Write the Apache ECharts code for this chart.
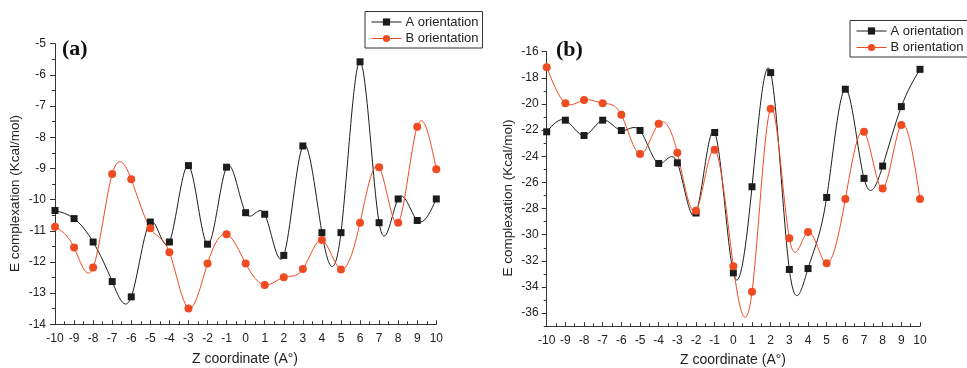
<!DOCTYPE html>
<html>
<head>
<meta charset="utf-8">
<script src="https://cdn.jsdelivr.net/npm/echarts@6/dist/echarts.min.js"></script>
<style>html,body{margin:0;padding:0;background:#fff;}#c{width:967px;height:368px;}</style>
</head>
<body>
<div id="c"></div>
<script>
// ---- data ----
const zs = [-10,-9,-8,-7,-6,-5,-4,-3,-2,-1,0,1,2,3,4,5,6,7,8,9,10];
const panelA_A = [-10.35,-10.61,-11.36,-12.63,-13.12,-10.72,-11.36,-8.91,-11.43,-8.96,-10.42,-10.47,-11.79,-8.28,-11.06,-11.06,-5.58,-10.74,-9.98,-10.67,-9.98];
const panelA_B = [-10.87,-11.54,-12.18,-9.18,-9.35,-10.92,-11.69,-13.49,-12.05,-11.11,-12.05,-12.74,-12.49,-12.23,-11.30,-12.24,-10.74,-8.96,-10.74,-7.66,-9.03];
const panelB_A = [-22.13,-21.24,-22.41,-21.24,-22.03,-22.03,-24.55,-24.50,-28.34,-22.18,-32.92,-26.33,-17.60,-32.66,-32.59,-27.15,-18.87,-25.69,-24.75,-20.20,-17.35];
const panelB_B = [-17.19,-19.94,-19.69,-19.94,-20.83,-23.83,-21.52,-23.73,-28.16,-23.50,-32.41,-34.37,-20.37,-30.27,-29.79,-32.18,-27.27,-22.13,-26.46,-21.60,-27.27];
const seriesNames = ['A orientation','B orientation'];
const xTicks = [-10,-9,-8,-7,-6,-5,-4,-3,-2,-1,0,1,2,3,4,5,6,7,8,9,10];
const yTicksB = [-36,-34,-32,-30,-28,-26,-24,-22,-20,-18,-16];
const yMinorB = [-37,-35,-33,-31,-29,-27,-25,-23,-21,-19,-17];
const yAxisTitle = 'E complexation (Kcal/mol)';
const xAxisTitle = 'Z coordinate (A°)';

// ---- style ----
const BLACK = '#1c1c1c', RED = '#ef4b23', TXT = '#222';
const FONT = 'Liberation Sans, Arial, sans-serif';

// natural cubic spline second derivatives
function splineM(xs, ys) {
  const n = xs.length, h = [], M = new Array(n).fill(0);
  for (let i = 0; i < n - 1; i++) h.push(xs[i+1] - xs[i]);
  const a = [], b = [], c = [], d = [];
  for (let i = 1; i < n - 1; i++) {
    a.push(h[i-1]); b.push(2*(h[i-1]+h[i])); c.push(h[i]);
    d.push(6*((ys[i+1]-ys[i])/h[i] - (ys[i]-ys[i-1])/h[i-1]));
  }
  const m = b.length;
  for (let i = 1; i < m; i++) { const w = a[i]/b[i-1]; b[i] -= w*c[i-1]; d[i] -= w*d[i-1]; }
  const sol = new Array(m);
  sol[m-1] = d[m-1]/b[m-1];
  for (let i = m-2; i >= 0; i--) sol[i] = (d[i] - c[i]*sol[i+1])/b[i];
  for (let i = 0; i < m; i++) M[i+1] = sol[i];
  return M;
}

function curve(ys, color, gi) {
  const M = splineM(zs, ys);
  return {
    type: 'custom', xAxisIndex: gi, yAxisIndex: gi === 0 ? 0 : 1, silent: true, z: 1,
    data: zs.map((x, i) => [x, ys[i]]),
    renderItem: function (params, api) {
      const i = params.dataIndex;
      if (i >= zs.length - 1) return null;
      const h = zs[i+1] - zs[i];
      const s = (ys[i+1] - ys[i]) / h;
      const d0 = s - h*(2*M[i] + M[i+1])/6;
      const d1 = s + h*(M[i] + 2*M[i+1])/6;
      const p0 = api.coord([zs[i], ys[i]]);
      const p1 = api.coord([zs[i] + h/3, ys[i] + d0*h/3]);
      const p2 = api.coord([zs[i+1] - h/3, ys[i+1] - d1*h/3]);
      const p3 = api.coord([zs[i+1], ys[i+1]]);
      return {
        type: 'bezierCurve',
        shape: {x1: p0[0], y1: p0[1], cpx1: p1[0], cpy1: p1[1], cpx2: p2[0], cpy2: p2[1], x2: p3[0], y2: p3[1]},
        style: {stroke: color, lineWidth: 1, fill: null}
      };
    }
  };
}

function markers(name, ys, color, symbol, size, gi) {
  return {
    type: 'line', name: name, xAxisIndex: gi, yAxisIndex: gi === 0 ? 0 : 1, z: 3,
    data: zs.map((x, i) => [x, ys[i]]),
    symbol: symbol, symbolSize: size, showAllSymbol: true,
    lineStyle: {color: color, width: 1, opacity: 0},
    itemStyle: {color: color, borderWidth: 0},
    emphasis: {disabled: true}, animation: false
  };
}

const grids = [
  {left: 55, top: 43.7, width: 381.3, height: 280.6},
  {left: 546.7, top: 51.7, width: 373.3, height: 274.5}
];

function xAxis(gi) {
  return {
    type: 'value', gridIndex: gi, min: -10, max: 10, interval: 1,
    axisLine: {show: true, onZero: false, lineStyle: {color: '#333', width: 1}},
    axisTick: {show: true, inside: true, length: 4, lineStyle: {color: '#333'}},
    minorTick: {show: true, splitNumber: 2, length: 3, lineStyle: {color: '#333'}},
    splitLine: {show: false},
    axisLabel: {color: TXT, fontFamily: FONT, fontSize: 12, margin: 8,
      customValues: xTicks, formatter: v => String(v)}
  };
}

const option = {
  animation: false,
  backgroundColor: '#fff',
  grid: grids,
  xAxis: [xAxis(0), xAxis(1)],
  yAxis: [
    {type: 'value', gridIndex: 0, min: -14, max: -5, interval: 1, position: 'left',
     axisLine: {show: true, onZero: false, lineStyle: {color: '#333'}},
     axisTick: {show: true, length: 5, lineStyle: {color: '#333'}},
     minorTick: {show: true, splitNumber: 2, length: 3, lineStyle: {color: '#333'}},
     splitLine: {show: false},
     axisLabel: {color: TXT, fontFamily: FONT, fontSize: 12, margin: 9}},
    {type: 'value', gridIndex: 1, min: -37, max: -16, interval: 1, position: 'left',
     axisLine: {show: true, onZero: false, lineStyle: {color: '#333'}},
     axisTick: {show: true, length: 5, customValues: yTicksB, lineStyle: {color: '#333'}},
     splitLine: {show: false},
     axisLabel: {color: TXT, fontFamily: FONT, fontSize: 12, margin: 8, customValues: yTicksB}},
    {type: 'value', gridIndex: 1, min: -37, max: -16, interval: 1, position: 'left', offset: 0,
     axisLine: {show: false, onZero: false},
     axisTick: {show: true, length: 3, customValues: yMinorB, lineStyle: {color: '#333'}},
     splitLine: {show: false},
     axisLabel: {show: false}}
  ],
  legend: [0, 1].map(gi => ({
    orient: 'vertical',
    left: gi === 0 ? 365 : 850,
    top: gi === 0 ? 11.5 : 20.5,
    padding: [3, 4, 2, 6],
    itemGap: 1.5,
    itemWidth: 30, itemHeight: 9,
    borderColor: '#333', borderWidth: 1, borderRadius: 0,
    textStyle: {fontFamily: FONT, fontSize: 13, color: TXT, lineHeight: 15, padding: [0, 0, 0, -1]},
    lineStyle: {opacity: 1, width: 1},
    selectedMode: false,
    data: seriesNames
  })),
  graphic: [
    {type: 'text', x: 15, y: 193.5, rotation: Math.PI/2,
     style: {text: yAxisTitle, fontSize: 13.5, fontFamily: FONT, fill: TXT, align: 'center', verticalAlign: 'middle'}},
    {type: 'text', x: 508, y: 198, rotation: Math.PI/2,
     style: {text: yAxisTitle, fontSize: 13.5, fontFamily: FONT, fill: TXT, align: 'center', verticalAlign: 'middle'}},
    {type: 'text', x: 245, y: 359,
     style: {text: xAxisTitle, fontSize: 14, fontFamily: FONT, fill: TXT, align: 'center', verticalAlign: 'middle'}},
    {type: 'text', x: 733, y: 360,
     style: {text: xAxisTitle, fontSize: 14, fontFamily: FONT, fill: TXT, align: 'center', verticalAlign: 'middle'}},
    {type: 'text', x: 62, y: 49,
     style: {text: '(a)', fontSize: 22, fontWeight: 'bold', fontFamily: 'Liberation Serif, Times New Roman, serif', fill: '#111', align: 'left', verticalAlign: 'middle'}},
    {type: 'text', x: 556, y: 50,
     style: {text: '(b)', fontSize: 22, fontWeight: 'bold', fontFamily: 'Liberation Serif, Times New Roman, serif', fill: '#111', align: 'left', verticalAlign: 'middle'}}
  ],
  series: [
    curve(panelA_A, BLACK, 0),
    curve(panelA_B, RED, 0),
    curve(panelB_A, BLACK, 1),
    curve(panelB_B, RED, 1),
    markers(seriesNames[0], panelA_A, BLACK, 'rect', 7, 0),
    markers(seriesNames[1], panelA_B, RED, 'circle', 8, 0),
    markers(seriesNames[0], panelB_A, BLACK, 'rect', 7, 1),
    markers(seriesNames[1], panelB_B, RED, 'circle', 8, 1)
  ]
};

const chart = echarts.init(document.getElementById('c'), null, {renderer: 'canvas'});
chart.setOption(option);
</script>
</body>
</html>
